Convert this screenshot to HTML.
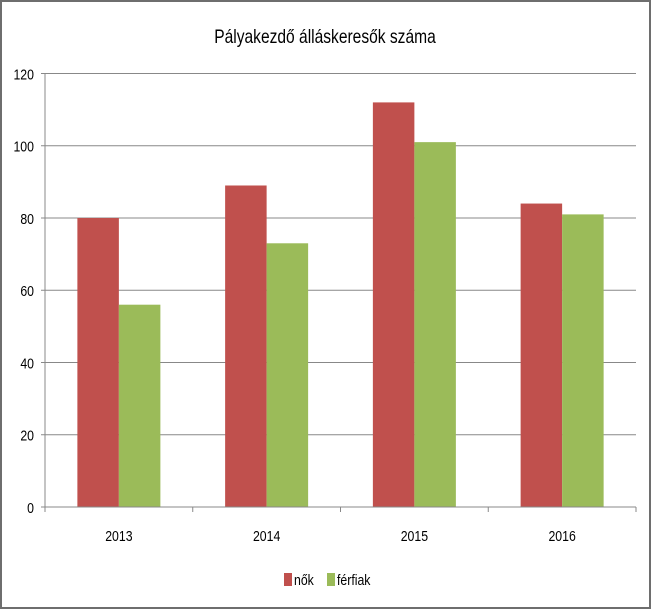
<!DOCTYPE html>
<html><head><meta charset="utf-8"><style>
html,body{margin:0;padding:0;background:#fff}
svg{display:block}
text{font-family:"Liberation Sans",sans-serif;fill:#000}
</style></head><body>
<svg width="652" height="610">
<rect x="1" y="1" width="649" height="607" fill="#fff" stroke="#6e6e6e" stroke-width="2"/>
<text x="325" y="43" text-anchor="middle" font-size="19" transform="translate(325,0) scale(0.82,1) translate(-325,0)">Pályakezdő álláskeresők száma</text>
<g id="grid"></g><g id="bars"></g><g id="axes"></g>
<g>
<rect x="284" y="573" width="8" height="13" fill="#C0504D"/>
<text x="294" y="585" font-size="15" transform="translate(294,0) scale(0.82,1) translate(-294,0)">nők</text>
<rect x="327" y="573" width="8" height="13" fill="#9BBB59"/>
<text x="337" y="585" font-size="15" transform="translate(337,0) scale(0.82,1) translate(-337,0)">férfiak</text>
</g>
</svg>
<script>
const categories=["2013","2014","2015","2016"];
const nok=[80,89,112,84];
const ferfiak=[56,73,101,81];
const yTicks=[0,20,40,60,80,100,120];
const NS="http://www.w3.org/2000/svg";
const x0=45,x1=636,y0=507,yTop=73.5,yMax=120;
const cw=(x1-x0)/categories.length;
const bw=41.5;
function y(v){return y0-(v/yMax)*(y0-yTop);}
function mk(tag,attrs,parent){const e=document.createElementNS(NS,tag);for(const k in attrs)e.setAttribute(k,attrs[k]);parent.appendChild(e);return e;}
const grid=document.getElementById('grid'),bars=document.getElementById('bars'),axes=document.getElementById('axes');
yTicks.forEach(t=>{
  if(t>0){const l=mk('line',{x1:x0,x2:x1,y1:y(t),y2:y(t),stroke:'#888','stroke-width':1},grid);
  
  }
  const tk=mk('line',{x1:x0-4,x2:x0,y1:y(t),y2:y(t),stroke:'#888'},axes);
  
  
  const tx=mk('text',{x:34,y:y(t)+6,'text-anchor':'end','font-size':15,transform:`translate(34,0) scale(0.82,1) translate(-34,0)`},axes);
  tx.textContent=t;
  
  
});
categories.forEach((c,i)=>{
  const cx=x0+cw*(i+0.5);
  const r=mk('rect',{x:cx-bw,y:y(nok[i]),width:bw,height:y0-y(nok[i]),fill:'#C0504D'},bars);
  
  
  const g=mk('rect',{x:cx,y:y(ferfiak[i]),width:bw,height:y0-y(ferfiak[i]),fill:'#9BBB59'},bars);
  
  
  const tx=mk('text',{x:cx,y:541,'text-anchor':'middle','font-size':15,transform:`translate(${cx},0) scale(0.82,1) translate(${-cx},0)`},axes);
  tx.textContent=c;
  
  
});
for(let i=0;i<=categories.length;i++){
  const xx=x0+cw*i;
  const t=mk('line',{x1:xx,x2:xx,y1:y0,y2:y0+5,stroke:'#888'},axes);
  
  
}
const ya=mk('line',{x1:x0,x2:x0,y1:yTop,y2:y0,stroke:'#888'},axes);


const xa=mk('line',{x1:x0-4,x2:x1,y1:y0,y2:y0,stroke:'#888'},axes);


</script>
</body></html>
